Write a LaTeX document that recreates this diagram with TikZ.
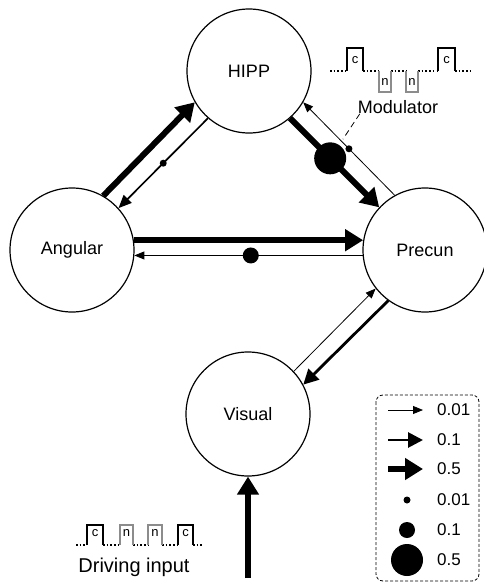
\documentclass[tikz,border=0pt]{standalone}
\usepackage{fontspec}
\setmainfont{Liberation Sans}
\usetikzlibrary{arrows.meta,positioning}
\tikzset{
     region/.style = {circle, draw, line width=1.2pt, minimum size=124pt, font=\fontsize{18}{20}\selectfont},
      weakedge/.style   = {line width=0.8pt, -{Triangle[length=10pt,width=8pt]}},
      lightedge/.style  = {line width=1.7pt, -{Triangle[length=13pt,width=11pt]}},
      midedge/.style    = {line width=2.8pt, -{Triangle[length=15pt,width=15pt]}},
      strongedge/.style = {line width=6pt, -{Triangle[length=18pt,width=21pt]}},
      smalldot/.style = {circle, fill, inner sep=0pt, minimum size=7pt},
      middot/.style = {circle, fill, inner sep=0pt, minimum size=16pt},
      bigdot/.style = {circle, fill, inner sep=0pt, minimum size=32pt},
      pulsebase/.style = {line width=1.5pt, dash pattern=on 1.5pt off 2.2pt},
      cpulse/.style = {line width=1.2pt, black},
      npulse/.style = {line width=1.2pt, black!45},
      pulse label/.style = {inner sep=0pt, font=\fontsize{13}{13}\selectfont},
      caption/.style = {inner sep=0pt, font=\fontsize{18}{20}\selectfont},
      legend text/.style = {inner sep=0pt, anchor=west, font=\fontsize{17}{17}\selectfont},
    }

\begin{document}
\begin{tikzpicture}[x=1pt,y=-1pt]
        \useasboundingbox (0,0) rectangle (483,584);
        \node [region] (hipp)    at (249,71)  {HIPP};
        \node [region] (angular) at (72,250)  {Angular};
        \node [region] (precun)  at (425,250) {Precun};
        \node [region] (visual)  at (248,414) {Visual};
        \coordinate (drive) at (248,578);

        % connections
        \draw[strongedge] (angular.60) -- (hipp.210);
        \draw[lightedge] (hipp.229) -- node[smalldot,pos=0.5] (dotha) {} (angular.42);
        \draw[strongedge] (hipp.311) -- node[bigdot,pos=0.45] (dothp) {} (precun.137);
        \draw[weakedge] (precun.119) -- node[smalldot,pos=0.5] (dotph) {} (hipp.330);
        \draw[strongedge] (angular.9) -- (precun.171);
        \draw[weakedge] (precun.185) -- node[middot,pos=0.49] (dotpa) {} (angular.355);
        \draw[weakedge] (visual.43) -- (precun.218);
        \draw[midedge] (precun.234) -- (visual.28);
        \draw[strongedge] (drive) -- (visual.south);

        % modulator
        \draw[pulsebase] (330,71) -- (347,71) (363,71) -- (379,71) (391,71) -- (406,71)
            (418,71) -- (438,71) (455,71) -- (472,71);
        \foreach \a/\b in {347/363, 438/455} {
            \draw[cpulse] (\a,71) |- (\b,48) -- (\b,71);
            \node[pulse label] (mc\a) at ({(\a+\b)/2},60) {c};
        }
        \foreach \a/\b in {379/391, 406/418} {
            \draw[npulse] (\a,71) |- (\b,92) -- (\b,71);
            \node[pulse label] (mn\a) at ({(\a+\b)/2},82) {n};
        }
        \node[caption] (modulator) at (398,107) {Modulator};
        \draw[line width=0.8pt, dash pattern=on 6pt off 4pt, shorten >=4pt]
            ([xshift=2pt]modulator.south west) -- (dothp);

        % driving input
        \draw[pulsebase] (76,545) -- (87,545) (103,545) -- (120,545) (133,545) -- (148,545)
            (162,545) -- (178,545) (193,545) -- (203,545);
        \foreach \a/\b in {87/103, 178/193} {
            \draw[cpulse] (\a,545) |- (\b,525) -- (\b,545);
            \node[pulse label] (dc\a) at ({(\a+\b)/2},533) {c};
        }
        \foreach \a/\b in {120/133, 148/162} {
            \draw[npulse] (\a,545) |- (\b,525) -- (\b,545);
            \node[pulse label] (dn\a) at ({(\a+\b)/2},533) {n};
        }
        \node[caption, font=\fontsize{20}{22}\selectfont] (driving) at (134,567) {Driving input};

        % legend
        \draw[line width=0.8pt, dash pattern=on 3pt off 2pt, rounded corners=7pt] (376,395) rectangle (479,581);
        \foreach \y/\s/\t in {410/weakedge/0.01, 440/midedge/0.1, 469/strongedge/0.5} {
            \node[legend text] (lab\y) at (437,\y) {\t};
            \coordinate (tail\y) at (388,\y);
            \draw[\s] (tail\y) -- ([xshift=-14pt]lab\y.west);
        }
        \foreach \y/\s/\t in {500/smalldot/0.01, 530/middot/0.1, 560/bigdot/0.5} {
            \node[legend text] (lab\y) at (437,\y) {\t};
            \node[\s] (key\y) at (407,\y) {};
        }
    \end{tikzpicture}
\end{document}
